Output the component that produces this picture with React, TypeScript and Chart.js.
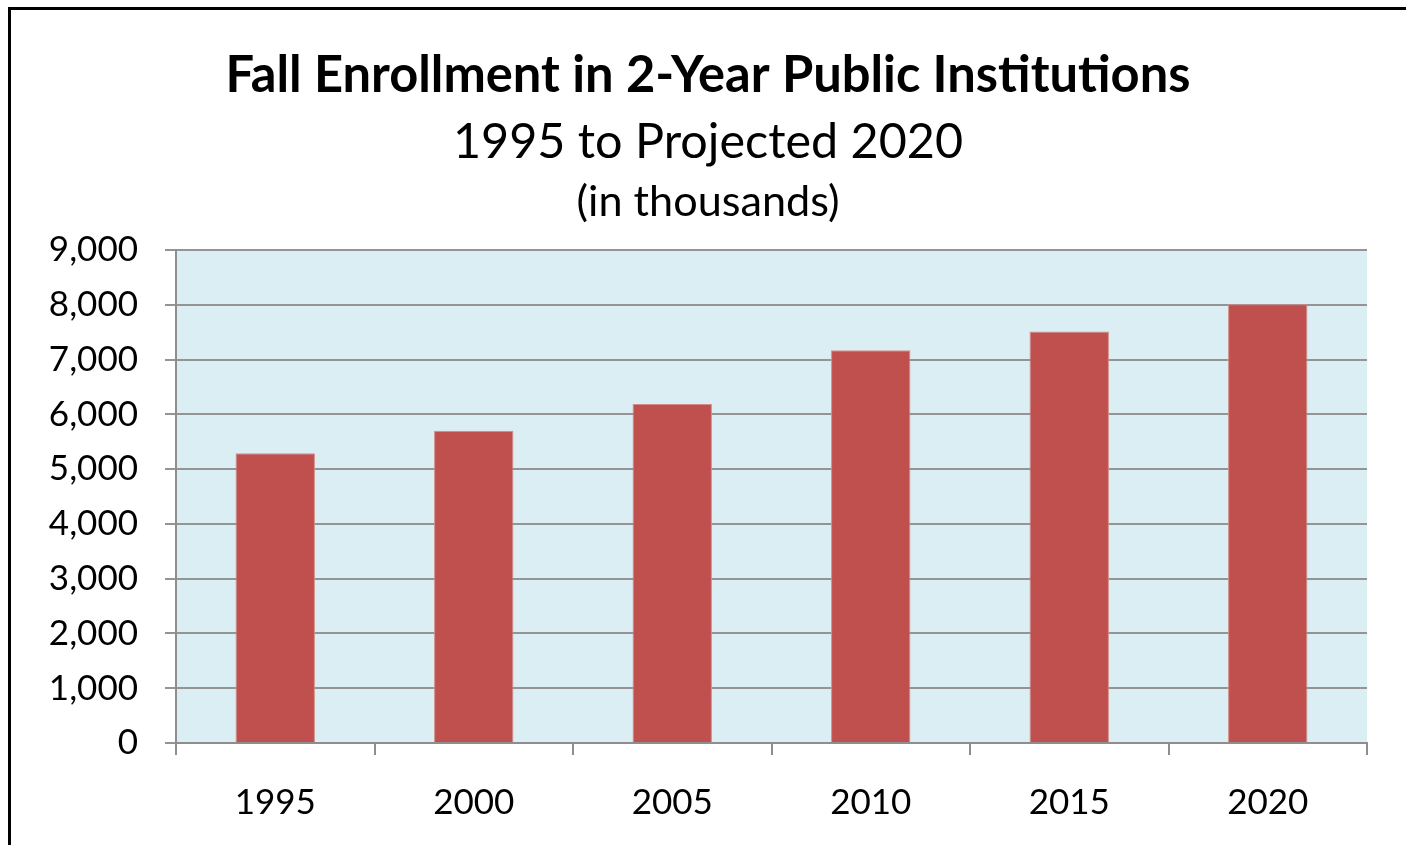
import React, { useEffect, useRef } from "react";
import { Chart, registerables } from "chart.js";

Chart.register(...registerables);

const categories = ["1995", "2000", "2005", "2010", "2015", "2020"];
const enrollment = [5290, 5700, 6190, 7170, 7510, 8010];
const titleLines = [
  "Fall Enrollment in 2-Year Public Institutions",
  "1995 to Projected 2020",
  "(in thousands)",
];
const yMin = 0;
const yMax = 9000;
const yStep = 1000;

const FONT = "Lato, 'Open Sans', sans-serif";

const titlePlugin = {
  id: "multiTitle",
  afterDraw(chart: any) {
    const ctx = chart.ctx;
    const cx = 697;
    const specs = [
      { text: titleLines[0], weight: "bold", target: 965, baseline: 82 },
      { text: titleLines[1], weight: "normal", target: 510, baseline: 148 },
      { text: titleLines[2], weight: "normal", target: 263, baseline: 206 },
    ];
    ctx.save();
    ctx.fillStyle = "#000";
    ctx.textAlign = "center";
    ctx.textBaseline = "alphabetic";
    for (const s of specs) {
      ctx.font = `${s.weight} 40px ${FONT}`;
      const w = ctx.measureText(s.text).width;
      const size = (40 * s.target) / w;
      ctx.font = `${s.weight} ${size.toFixed(2)}px ${FONT}`;
      ctx.fillText(s.text, cx, s.baseline);
    }
    ctx.restore();
  },
};

const bgPlugin = {
  id: "plotBg",
  beforeDraw(chart: any) {
    const { ctx, chartArea } = chart;
    if (!chartArea) return;
    ctx.save();
    ctx.fillStyle = "#DBEEF3";
    ctx.fillRect(
      chartArea.left,
      chartArea.top,
      chartArea.right - chartArea.left,
      chartArea.bottom - chartArea.top
    );
    ctx.restore();
  },
};

export default function App() {
  const canvasRef = useRef<HTMLCanvasElement | null>(null);

  useEffect(() => {
    if (!canvasRef.current) return;
    const chart = new Chart(canvasRef.current, {
      type: "bar",
      data: {
        labels: categories,
        datasets: [
          {
            label: "Fall Enrollment",
            data: enrollment,
            backgroundColor: "#C0504D",
            borderColor: "#D48C8A",
            borderWidth: 1,
            barPercentage: 0.4,
            categoryPercentage: 1,
          },
        ],
      },
      options: {
        animation: false,
        responsive: false,
        maintainAspectRatio: false,
        layout: { padding: { top: 240, right: 63, left: 0, bottom: 0 } },
        plugins: {
          legend: { display: false },
          title: { display: false },
          tooltip: { enabled: false },
        },
        scales: {
          x: {
            afterFit(scale: any) {
              scale.height = 102;
            },
            grid: {
              display: true,
              drawOnChartArea: false,
              drawTicks: true,
              tickLength: 12,
              color: "#8E8E8E",
              lineWidth: 2,
              offset: true,
            },
            border: { display: true, color: "#8E8E8E", width: 2 },
            ticks: {
              color: "#000",
              font: { family: FONT, size: 35 },
              padding: 27,
              maxRotation: 0,
            },
          },
          y: {
            min: yMin,
            max: yMax,
            afterFit(scale: any) {
              scale.width = 165;
            },
            grid: {
              color: "#949494",
              lineWidth: 2,
              drawTicks: true,
              tickLength: 11,
            },
            border: { display: true, color: "#8E8E8E", width: 2 },
            ticks: {
              stepSize: yStep,
              color: "#000",
              font: { family: FONT, size: 35 },
              padding: 27,
              callback: (v: any) => Number(v).toLocaleString("en-US"),
            },
          },
        },
      },
      plugins: [bgPlugin, titlePlugin],
    });
    return () => chart.destroy();
  }, []);

  return (
    <div
      style={{
        position: "fixed",
        left: 8,
        top: 7,
        width: 1422,
        height: 838,
        borderLeft: "3px solid #000",
        borderTop: "3px solid #000",
        background: "#fff",
        overflow: "hidden",
        boxSizing: "border-box",
      }}
    >
      <canvas ref={canvasRef} width={1419} height={835} style={{ display: "block" }} />
    </div>
  );
}
